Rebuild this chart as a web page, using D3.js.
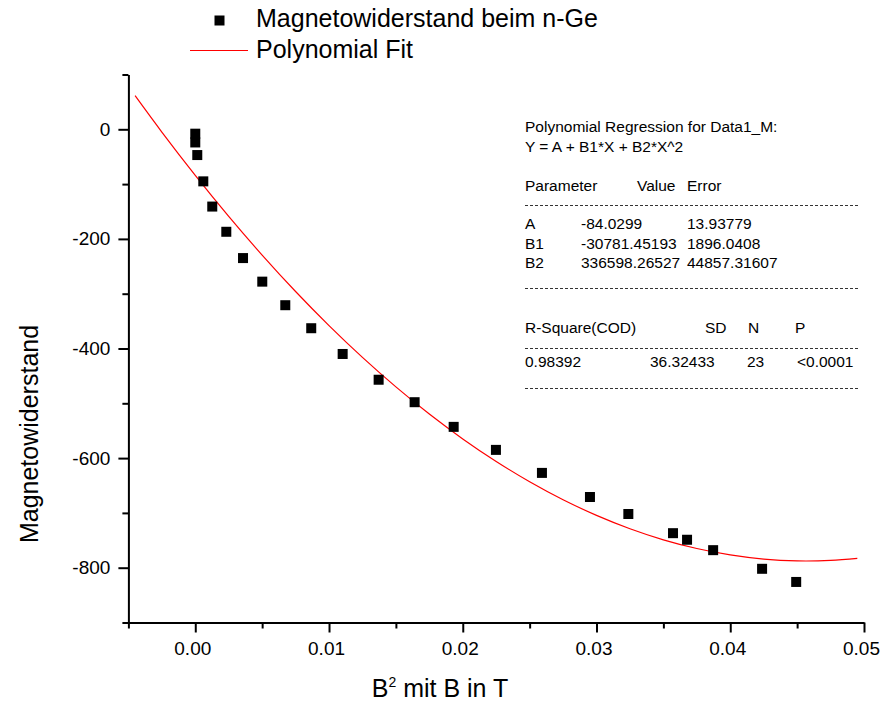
<!DOCTYPE html>
<html>
<head>
<meta charset="utf-8">
<script src="https://cdn.jsdelivr.net/npm/d3@7"></script>
<style>
  body { margin: 0; background: #fff; }
  svg { font-family: "Liberation Sans", Arial, sans-serif; }
</style>
</head>
<body>
<div id="chart"></div>
<script>
// measured points: B^2 (T^2) vs. Magnetowiderstand
const bSquared = [0.0000, 0.0000, 0.00015, 0.0006, 0.00127, 0.00232, 0.00357, 0.00501,
  0.00673, 0.00867, 0.01102, 0.01371, 0.0164, 0.01932, 0.02248, 0.02592, 0.02951,
  0.03238, 0.03572, 0.03677, 0.03872, 0.04238, 0.04493];
const resistance = [-8, -24, -47, -95, -141, -187, -235, -278, -321, -363, -410, -457,
  -498, -543, -585, -627, -671, -702, -737, -749, -768, -802, -826];

// red fit line
const fitX = [-0.0045, -0.0025, 0, 0.0025, 0.005, 0.0075, 0.01, 0.0125, 0.015, 0.0175,
  0.02, 0.0225, 0.025, 0.0275, 0.03, 0.0325, 0.035, 0.0375, 0.04, 0.0425, 0.045, 0.0475, 0.0495];
const fitY = [61.3, -5.0, -84.0, -158.9, -229.5, -296.0, -358.2, -416.2, -470.0, -519.6,
  -565.0, -606.2, -643.2, -676.0, -704.5, -728.9, -749.1, -765.0, -776.7, -784.3,
  -787.6, -786.7, -783.0];

const xMajorTicks = [0, 0.01, 0.02, 0.03, 0.04, 0.05];
const xMinorTicks = [-0.005, 0.005, 0.015, 0.025, 0.035, 0.045];
const yMajorTicks = [0, -200, -400, -600, -800];
const yMinorTicks = [100, -100, -300, -500, -700, -900];

const seriesNames = ["Magnetowiderstand beim n-Ge", "Polynomial Fit"];

const statsRows = [
  ["Polynomial Regression for Data1_M:"],
  ["Y = A + B1*X + B2*X^2"],
  ["Parameter", "Value", "Error"],
  ["A", "-84.0299", "13.93779"],
  ["B1", "-30781.45193", "1896.0408"],
  ["B2", "336598.26527", "44857.31607"],
  ["R-Square(COD)", "SD", "N", "P"],
  ["0.98392", "36.32433", "23", "<0.0001"]
];

const width = 885, height = 702;
const margin = { top: 74.5, right: 21, bottom: 79.5, left: 128.4 };
const innerW = width - margin.left - margin.right;
const innerH = height - margin.top - margin.bottom;

const svg = d3.select("#chart").append("svg")
  .attr("width", width)
  .attr("height", height);

const chart = svg.append("g")
  .attr("transform", `translate(${margin.left},${margin.top})`);

const x = d3.scaleLinear().domain([-0.005, 0.05]).range([0, innerW]);
const y = d3.scaleLinear().domain([-900, 100]).range([innerH, 0]);

// axes: major ticks with labels, minor ticks without
const xAxisG = chart.append("g").attr("transform", `translate(0,${innerH})`);
xAxisG.append("g")
  .call(d3.axisBottom(x).tickValues(xMinorTicks).tickSize(6).tickFormat(""))
  .call(g => g.select(".domain").remove());
xAxisG.append("g")
  .call(d3.axisBottom(x).tickValues(xMajorTicks).tickSize(10).tickSizeOuter(0)
    .tickPadding(9).tickFormat(d3.format(".2f")))
  .selectAll(".tick text")
  .attr("dx", -3);

const yAxisG = chart.append("g");
yAxisG.append("g")
  .call(d3.axisLeft(y).tickValues(yMinorTicks).tickSize(6).tickFormat(""))
  .call(g => g.select(".domain").remove());
yAxisG.append("g")
  .call(d3.axisLeft(y).tickValues(yMajorTicks).tickSize(10).tickSizeOuter(0)
    .tickPadding(8).tickFormat(d => String(d)));

chart.selectAll(".domain, .tick line")
  .attr("stroke", "#000")
  .attr("stroke-width", 2);
chart.selectAll(".tick text")
  .attr("fill", "#000")
  .style("font-size", "19px")
  .style("font-family", "Liberation Sans, Arial, sans-serif");

// fit line
const line = d3.line()
  .x((d, i) => x(fitX[i]))
  .y(d => y(d))
  .curve(d3.curveCatmullRom);

chart.append("path")
  .datum(fitY)
  .attr("fill", "none")
  .attr("stroke", "#ff0000")
  .attr("stroke-width", 1.2)
  .attr("d", line);

// data squares
const sq = 10;
chart.selectAll(".point")
  .data(resistance)
  .join("rect")
  .attr("class", "point")
  .attr("x", (d, i) => x(bSquared[i]) - sq / 2)
  .attr("y", d => y(d) - sq / 2)
  .attr("width", sq)
  .attr("height", sq)
  .attr("fill", "#000");

// axis titles
const xTitle = svg.append("text")
  .attr("x", 440)
  .attr("y", 697)
  .attr("text-anchor", "middle")
  .style("font-size", "25px");
xTitle.append("tspan").text("B");
xTitle.append("tspan").attr("dy", -10).style("font-size", "14px").text("2");
xTitle.append("tspan").attr("dy", 10).text(" mit B in T");

svg.append("text")
  .attr("transform", "translate(38,434) rotate(-90)")
  .attr("text-anchor", "middle")
  .style("font-size", "25px")
  .text("Magnetowiderstand");

// legend
const legend = svg.append("g");
legend.append("rect")
  .attr("x", 214.5).attr("y", 15.5)
  .attr("width", sq).attr("height", sq)
  .attr("fill", "#000");
legend.append("line")
  .attr("x1", 190).attr("x2", 248)
  .attr("y1", 50.5).attr("y2", 50.5)
  .attr("stroke", "#ff0000")
  .attr("stroke-width", 1.2);
legend.selectAll(".legend-label")
  .data(seriesNames)
  .join("text")
  .attr("class", "legend-label")
  .attr("x", 256)
  .attr("y", (d, i) => 27 + i * 31)
  .style("font-size", "25px")
  .text(d => d);

// regression statistics box
const stats = svg.append("g").style("font-size", "15.5px");
const rowY = [132, 152, 191, 229, 249, 268, 333, 367];
const colX = {
  2: [525, 637, 687],
  3: [525, 581, 687],
  6: [525, 705, 748, 795],
  7: [525, 650, 747, 797]
};
statsRows.forEach((row, r) => {
  const cols = row.length === 1 ? [525] : (r === 2 ? colX[2] : r < 6 ? colX[3] : colX[r]);
  row.forEach((cell, c) => {
    stats.append("text")
      .attr("x", cols[c])
      .attr("y", rowY[r])
      .text(cell);
  });
});
const dashY = [205, 288, 348, 388];
stats.selectAll(".dash")
  .data(dashY)
  .join("line")
  .attr("class", "dash")
  .attr("x1", 525).attr("x2", 858)
  .attr("y1", d => d + 0.5).attr("y2", d => d + 0.5)
  .attr("stroke", "#333")
  .attr("stroke-width", 1)
  .attr("stroke-dasharray", "3,2");
</script>
</body>
</html>
